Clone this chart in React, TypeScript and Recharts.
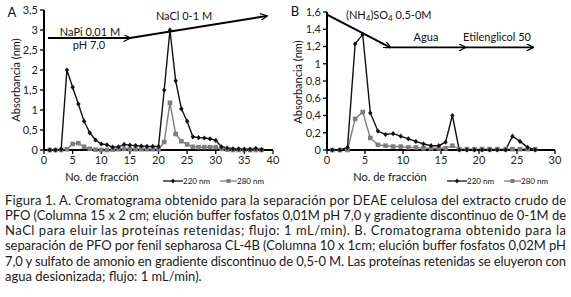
import React from 'react';
import { LineChart, Line, XAxis, YAxis, ReferenceLine } from 'recharts';

// chart A: DEAE celulosa
const FRACTIONS_A = [1, 2, 3, 4, 5, 6, 7, 8, 9, 10, 11, 12, 13, 14, 15, 16, 17, 18, 19, 20, 21, 22, 23, 24, 25, 26, 27, 28, 29, 30, 31, 32, 33, 34, 35, 36, 37, 38];
const A_220 = [0, 0, 0.02, 2.0, 1.57, 1.15, 0.72, 0.43, 0.25, 0.15, 0.13, 0.07, 0.08, 0.14, 0.12, 0.11, 0.1, 0.09, 0.09, 0.09, 1.5, 3.0, 1.73, 1.03, 0.72, 0.33, 0.31, 0.3, 0.28, 0.24, 0.08, 0.05, 0.03, 0.03, 0.02, 0.02, 0.04, 0.01];
const A_280 = [0, 0, 0, 0.02, 0.15, 0.17, 0.08, 0.03, 0.01, 0, 0, 0.01, 0.02, 0.03, 0.02, 0.02, 0.02, 0.02, 0.02, 0.02, 0.2, 1.18, 0.4, 0.22, 0.14, 0.08, 0.07, 0.07, 0.07, 0.07, 0.03, 0.01, 0, 0, 0, 0, 0, 0];
const TICKS_XA = [0, 5, 10, 15, 20, 25, 30, 35, 40];
const TICKS_YA = [0, 0.5, 1, 1.5, 2, 2.5, 3, 3.5];

// chart B: fenil sepharosa
const FRACTIONS_B = [0.7, 1.7, 2.7, 3.7, 4.7, 5.7, 6.7, 7.7, 8.7, 9.7, 10.7, 11.7, 12.7, 13.7, 14.7, 15.6, 16.5, 17.4, 18.4, 19.4, 20.4, 21.4, 22.4, 23.5, 24.4, 25.4, 26.4, 27.4];
const B_220 = [0, 0, 0.03, 1.23, 1.34, 0.43, 0.22, 0.18, 0.19, 0.16, 0.13, 0.1, 0.07, 0.05, 0.05, 0.09, 0.4, 0, 0, 0, 0, 0, 0, 0, 0.16, 0.1, 0.03, 0];
const B_280 = [0, 0, 0, 0.36, 0.44, 0.14, 0.06, 0.05, 0.04, 0.04, 0.03, 0.03, 0.02, 0.02, 0.02, 0.02, 0.05, 0.01, 0.01, 0.01, 0.01, 0.01, 0.01, 0.01, 0.01, 0.01, 0.01, 0.01];
const TICKS_XB = [0, 5, 10, 15, 20, 25, 30];
const TICKS_YB = [0, 0.2, 0.4, 0.6, 0.8, 1, 1.2, 1.4, 1.6];

const CAPTION = [
  'Figura 1. A. Cromatograma obtenido para la separación por DEAE celulosa del extracto crudo de',
  'PFO (Columna 15 x 2 cm; elución buffer fosfatos 0,01M pH 7,0 y gradiente discontinuo de 0-1M de',
  'NaCl para eluir las proteínas retenidas; flujo: 1 mL/min). B. Cromatograma obtenido para la',
  'separación de PFO por fenil sepharosa CL-4B (Columna 10 x 1cm; elución buffer fosfatos 0,02M pH',
  '7,0 y sulfato de amonio en gradiente discontinuo de 0,5-0 M. Las proteínas retenidas se eluyeron con',
  'agua desionizada; flujo: 1 mL/min).',
];

const FONT = 'Lato, "Open Sans", sans-serif';

const dataA = FRACTIONS_A.map((f, i) => ({ f, a220: A_220[i], a280: A_280[i] }));
const dataB = FRACTIONS_B.map((f, i) => ({ f, a220: B_220[i], a280: B_280[i] }));

const comma = (v: number) => String(v).replace('.', ',');

const Diamond = (p: any) => {
  const { cx, cy, index } = p;
  if (cx == null || cy == null) return <g key={index} />;
  return <path key={index} d={`M${cx},${cy - 2.6}L${cx + 2.2},${cy}L${cx},${cy + 2.6}L${cx - 2.2},${cy}Z`} fill="#111" />;
};

const Square = (p: any) => {
  const { cx, cy, index } = p;
  if (cx == null || cy == null) return <g key={index} />;
  return <rect key={index} x={cx - 2.3} y={cy - 2.3} width={4.6} height={4.6} fill="#7d7d7d" />;
};

const Arrow = (p: any) => (
  <line x1={p.x1} y1={p.y1} x2={p.x2} y2={p.y2} stroke="#000" strokeWidth={1.9} markerEnd="url(#arrowhead)" />
);

const axisProps = {
  axisLine: { stroke: '#000', strokeWidth: 2 },
  tickLine: { stroke: '#000', strokeWidth: 1.3 },
  tickSize: 4,
  tick: { fontSize: 11, fill: '#222', fontFamily: FONT },
};

const txt = (left: number, top: number, s: string, extra: React.CSSProperties = {}) => (
  <div
    style={{
      position: 'absolute',
      left,
      top,
      fontSize: 11,
      color: '#111',
      whiteSpace: 'nowrap',
      lineHeight: '12px',
      transform: 'translate(-50%, -50%)',
      ...extra,
    }}
  >
    {s}
  </div>
);

const LegendRow = ({ left }: { left: number }) => (
  <div style={{ position: 'absolute', left, top: 176, fontSize: 8, color: '#111', display: 'flex', alignItems: 'center', whiteSpace: 'nowrap' }}>
    <svg width={20} height={8}>
      <line x1={0} y1={4} x2={20} y2={4} stroke="#111" strokeWidth={1.3} />
      <path d="M10,1.6L12,4L10,6.4L8,4Z" fill="#111" />
    </svg>
    <span style={{ marginRight: 10 }}>220 nm</span>
    <svg width={17} height={8}>
      <line x1={0} y1={4} x2={17} y2={4} stroke="#7d7d7d" strokeWidth={1.3} />
      <rect x={6.5} y={2} width={4} height={4} fill="#7d7d7d" />
    </svg>
    <span>280 nm</span>
  </div>
);

export default function App() {
  return (
    <div style={{ position: 'absolute', left: 0, top: 0, width: 571, height: 297, background: '#fff', fontFamily: FONT, overflow: 'hidden' }}>
      <svg width={0} height={0} style={{ position: 'absolute' }}>
        <defs>
          <marker id="arrowhead" viewBox="0 0 10 10" refX={9} refY={5} markerWidth={8} markerHeight={7} markerUnits="userSpaceOnUse" orient="auto">
            <path d="M0,0L10,5L0,10" fill="none" stroke="#000" strokeWidth={1.8} />
          </marker>
        </defs>
      </svg>

      {/* Chart A */}
      <div style={{ position: 'absolute', left: 0, top: 0 }}>
        <LineChart width={285} height={172} data={dataA} margin={{ top: 10, right: 12, left: 0, bottom: 0 }}>
          <XAxis dataKey="f" type="number" domain={[0, 40]} ticks={TICKS_XA} interval={0} height={22} {...axisProps} />
          <YAxis type="number" domain={[0, 3.5]} ticks={TICKS_YA} interval={0} width={44} tickFormatter={comma} {...axisProps} />
          <ReferenceLine segment={[{ x: 0.7, y: 2.8 }, { x: 15, y: 2.8 }]} shape={Arrow} ifOverflow="visible" />
          <ReferenceLine segment={[{ x: 15, y: 2.8 }, { x: 38.9, y: 3.35 }]} shape={Arrow} ifOverflow="visible" />
          <Line dataKey="a280" stroke="#7d7d7d" strokeWidth={1.4} dot={Square} isAnimationActive={false} />
          <Line dataKey="a220" stroke="#111" strokeWidth={1.4} dot={Diamond} isAnimationActive={false} />
        </LineChart>
      </div>
      {txt(12, 12, 'A', { fontSize: 13 })}
      {txt(90, 32, 'NaPi 0,01 M')}
      {txt(89, 45, 'pH 7,0')}
      {txt(184, 16, 'NaCl 0-1 M')}
      {txt(16, 80, 'Absorbancia (nm)', { transform: 'translate(-50%, -50%) rotate(-90deg)' })}
      {txt(102, 177, 'No. de fracción')}
      <LegendRow left={163} />

      {/* Chart B */}
      <div style={{ position: 'absolute', left: 285, top: 0 }}>
        <LineChart width={286} height={172} data={dataB} margin={{ top: 12, right: 16, left: 0, bottom: 0 }}>
          <XAxis dataKey="f" type="number" domain={[0, 30]} ticks={TICKS_XB} interval={0} height={22} {...axisProps} />
          <YAxis type="number" domain={[0, 1.6]} ticks={TICKS_YB} interval={0} width={42} tickFormatter={comma} {...axisProps} />
          <ReferenceLine segment={[{ x: 0, y: 1.57 }, { x: 8.3, y: 1.19 }]} shape={Arrow} ifOverflow="visible" />
          <ReferenceLine segment={[{ x: 8.3, y: 1.19 }, { x: 18.2, y: 1.19 }]} shape={Arrow} ifOverflow="visible" />
          <ReferenceLine segment={[{ x: 18.2, y: 1.19 }, { x: 27.1, y: 1.19 }]} shape={Arrow} ifOverflow="visible" />
          <Line dataKey="a280" stroke="#7d7d7d" strokeWidth={1.4} dot={Square} isAnimationActive={false} />
          <Line dataKey="a220" stroke="#111" strokeWidth={1.4} dot={Diamond} isAnimationActive={false} />
        </LineChart>
      </div>
      {txt(295, 11, 'B', { fontSize: 13 })}
      <div style={{ position: 'absolute', left: 346, top: 9, fontSize: 11, color: '#111', whiteSpace: 'nowrap', lineHeight: '12px' }}>
        (NH<sub style={{ fontSize: 8, verticalAlign: '-2px' }}>4</sub>)SO<sub style={{ fontSize: 8, verticalAlign: '-2px' }}>4</sub> 0,5-0M
      </div>
      {txt(426, 37, 'Agua')}
      {txt(497, 37, 'Etilenglicol 50')}
      {txt(298, 82, 'Absorbancia (nm)', { transform: 'translate(-50%, -50%) rotate(-90deg)' })}
      {txt(390, 177, 'No. de fracción')}
      <LegendRow left={447} />

      {/* caption */}
      <svg width={571} height={112} style={{ position: 'absolute', left: 0, top: 185 }}>
        {CAPTION.map((line, i) => (
          <text
            key={i}
            x={5}
            y={19.5 + i * 15.3}
            fontSize={13}
            fontFamily={FONT}
            fill="#1a1a1a"
            {...(i < CAPTION.length - 1 ? { textLength: 561, lengthAdjust: 'spacing' } : {})}
          >
            {line}
          </text>
        ))}
      </svg>
    </div>
  );
}
